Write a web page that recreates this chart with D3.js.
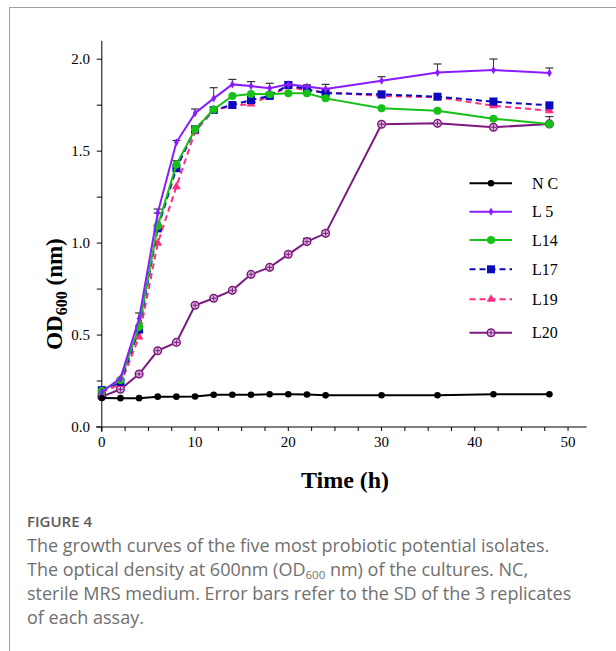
<!DOCTYPE html>
<html><head><meta charset="utf-8">
<script src="https://cdn.jsdelivr.net/npm/d3@7"></script>
<style>body{margin:0;background:#fff}svg{display:block}</style>
</head><body>
<script>
const times = [0,2,4,6,8,10,12,14,16,18,20,22,24,30,36,42,48];
const NC  = [0.158,0.157,0.157,0.165,0.165,0.166,0.175,0.175,0.175,0.178,0.178,0.177,0.172,0.173,0.173,0.178,0.178];
const L5  = [0.19,0.265,0.59,1.165,1.548,1.706,1.787,1.863,1.854,1.842,1.863,1.851,1.838,1.883,1.927,1.941,1.925];
const L14 = [0.196,0.256,0.545,1.093,1.428,1.619,1.727,1.80,1.811,1.809,1.815,1.815,1.787,1.733,1.720,1.676,1.648];
const L17 = [0.20,0.245,0.53,1.08,1.407,1.619,1.724,1.751,1.778,1.80,1.86,1.836,1.815,1.809,1.796,1.769,1.749];
const L19 = [0.19,0.232,0.49,1.0,1.307,1.606,1.724,1.746,1.756,1.80,1.851,1.83,1.82,1.80,1.793,1.747,1.72];
const L20 = [0.165,0.205,0.288,0.415,0.46,0.662,0.70,0.743,0.83,0.868,0.939,1.008,1.053,1.646,1.651,1.63,1.648];
// upward SD error bars
const errL5  = [0,0,0.03,0.02,0.01,0.023,0.058,0.027,0.024,0.027,0.01,0.01,0.025,0.022,0.047,0.06,0.027];
const errL14 = [0,0,0,0.07,0.02,0,0,0,0,0,0,0,0,0,0,0,0.04];
const errL17 = [0,0,0,0,0,0,0,0,0,0,0,0,0,0.01,0,0.02,0];
const errL19 = [0,0,0,0,0,0,0,0,0,0,0,0,0,0.015,0,0.025,0];
const errL20 = [0,0,0,0,0,0,0,0,0,0,0,0.018,0.014,0,0,0,0];
const seriesNames = ["N C","L 5","L14","L17","L19","L20"];
const yTicks = [0,0.5,1.0,1.5,2.0];
const xTicks = [0,10,20,30,40,50];
const captionTitle = "FIGURE 4";

const W=616,H=651;
const svg=d3.select("body").append("svg").attr("width",W).attr("height",H);

// frame
svg.append("line").attr("x1",9).attr("x2",W).attr("y1",7.5).attr("y2",7.5).attr("stroke","#a0a0a0");
svg.append("line").attr("x1",9.5).attr("x2",9.5).attr("y1",7).attr("y2",H).attr("stroke","#a0a0a0");

const x=d3.scaleLinear().domain([0,52]).range([101.8,586.7]);
const y=d3.scaleLinear().domain([0,2.1]).range([427,40.8]);
const serif="'Liberation Serif','Times New Roman',serif";

// axes lines
svg.append("line").attr("x1",96).attr("x2",x(52)).attr("y1",y(0)).attr("y2",y(0)).attr("stroke","#000").attr("stroke-width",1);
svg.append("line").attr("x1",x(0)).attr("x2",x(0)).attr("y1",y(2.1)).attr("y2",y(0)+5).attr("stroke","#000").attr("stroke-width",1);

// x ticks
const xMinor=d3.range(0,52,2.5);
svg.append("g").selectAll("line").data(xMinor).join("line")
  .attr("x1",d=>x(d)).attr("x2",d=>x(d)).attr("y1",y(0)).attr("y2",y(0)+4).attr("stroke","#000");
svg.append("g").selectAll("text").data(xTicks).join("text")
  .attr("x",d=>x(d)).attr("y",447).attr("text-anchor","middle")
  .attr("font-family",serif).attr("font-size",15).text(d=>d);
// y ticks
const yMinor=d3.range(0,2.01,0.25);
svg.append("g").selectAll("line").data(yMinor).join("line")
  .attr("x1",x(0)-5).attr("x2",x(0)).attr("y1",d=>y(d)).attr("y2",d=>y(d)).attr("stroke","#000");
svg.append("g").selectAll("text").data(yTicks).join("text")
  .attr("x",90).attr("y",d=>y(d)+5).attr("text-anchor","end")
  .attr("font-family",serif).attr("font-size",15).text(d=>d3.format(".1f")(d));

// axis titles
svg.append("text").attr("x",345).attr("y",488).attr("text-anchor","middle")
  .attr("font-family",serif).attr("font-weight","bold").attr("font-size",24).text("Time (h)");
const yt=svg.append("text").attr("transform","translate(62,294) rotate(-90)").attr("text-anchor","middle")
  .attr("font-family",serif).attr("font-weight","bold").attr("font-size",23);
yt.append("tspan").text("OD");
yt.append("tspan").attr("font-size",16).attr("dy",5).text("600");
yt.append("tspan").attr("dy",-5).text(" (nm)");

const series=[
  {name:seriesNames[5],vals:L20,err:errL20,color:"#7d1a80",dash:null,marker:"cross",ec:"#333"},
  {name:seriesNames[4],vals:L19,err:errL19,color:"#ff2c80",dash:"6,4",marker:"tri",ec:"#ff7fb0"},
  {name:seriesNames[3],vals:L17,err:errL17,color:"#0a0ac0",dash:"6,4",marker:"sq",ec:"#7f7fe0"},
  {name:seriesNames[2],vals:L14,err:errL14,color:"#16c016",dash:null,marker:"circ",ec:"#333"},
  {name:seriesNames[1],vals:L5,err:errL5,color:"#8a1cff",dash:null,marker:"dia",ec:"#333"},
  {name:seriesNames[0],vals:NC,err:null,color:"#000",dash:null,marker:"dot",ec:"#333"}
];
function drawMarker(g,type,cx,cy,color){
  if(type==="dot") g.append("circle").attr("cx",cx).attr("cy",cy).attr("r",3.3).attr("fill",color);
  else if(type==="circ") g.append("circle").attr("cx",cx).attr("cy",cy).attr("r",4).attr("fill",color);
  else if(type==="sq") g.append("rect").attr("x",cx-4).attr("y",cy-4).attr("width",8).attr("height",8).attr("fill",color);
  else if(type==="tri") g.append("path").attr("d",d3.symbol(d3.symbolTriangle,34)()).attr("transform",`translate(${cx},${cy})`).attr("fill",color);
  else if(type==="dia") g.append("path").attr("d",d3.symbol(d3.symbolDiamond,20)()).attr("transform",`translate(${cx},${cy})`).attr("fill",color);
  else if(type==="cross"){
    g.append("circle").attr("cx",cx).attr("cy",cy).attr("r",3.8).attr("fill","#d9b8dc").attr("stroke",color).attr("stroke-width",1.5);
    g.append("path").attr("d",`M${cx-2.5},${cy}H${cx+2.5}M${cx},${cy-2.5}V${cy+2.5}`).attr("stroke",color).attr("stroke-width",1);
  }
}
const line=d3.line().x(d=>x(d[0])).y(d=>y(d[1]));
// error bars first
series.forEach(s=>{
  if(!s.err) return;
  const g=svg.append("g");
  times.forEach((t,i)=>{
    const e=s.err[i]; if(!e) return;
    const x0=x(t),y0=y(s.vals[i]),y1=y(s.vals[i]+e);
    g.append("line").attr("x1",x0).attr("x2",x0).attr("y1",y0).attr("y2",y1).attr("stroke",s.ec).attr("stroke-width",1);
    g.append("line").attr("x1",x0-4).attr("x2",x0+4).attr("y1",y1).attr("y2",y1).attr("stroke",s.ec).attr("stroke-width",1.2);
  });
});
series.forEach(s=>{
  const g=svg.append("g");
  const pts=times.map((t,i)=>[t,s.vals[i]]);
  g.append("path").attr("d",line(pts)).attr("fill","none").attr("stroke",s.color).attr("stroke-width",2)
    .attr("stroke-dasharray",s.dash);
  pts.forEach(p=>drawMarker(g,s.marker,x(p[0]),y(p[1]),s.color));
});

// legend
const legOrder=[series[5],series[4],series[3],series[2],series[1],series[0]];
const legY=[183.3,211.7,240,269.3,299.3,332.7];
legOrder.forEach((s,i)=>{
  const g=svg.append("g");
  g.append("line").attr("x1",469.5).attr("x2",512).attr("y1",legY[i]).attr("y2",legY[i])
    .attr("stroke",s.color).attr("stroke-width",2).attr("stroke-dasharray",s.dash);
  drawMarker(g,s.marker,491,legY[i],s.color);
  g.append("text").attr("x",532).attr("y",legY[i]+5.5).attr("font-family",serif).attr("font-size",16).text(s.name);
});

// caption
const sans="'Open Sans','Noto Sans',sans-serif";
svg.append("text").attr("x",27).attr("y",527).attr("font-family",sans).attr("font-size",15).attr("font-weight",600)
  .attr("fill","#5a5a5a").text(captionTitle);
const cap=[
 ["The growth curves of the five most probiotic potential isolates."],
 ["The optical density at 600nm (OD","600"," nm) of the cultures. NC,"],
 ["sterile MRS medium. Error bars refer to the SD of the 3 replicates"],
 ["of each assay."]
];
cap.forEach((parts,i)=>{
  const t=svg.append("text").attr("x",27).attr("y",552+i*24).attr("font-family",sans).attr("font-size",18)
    .attr("fill","#707070");
  if(parts.length===1) t.text(parts[0]);
  else{
    t.append("tspan").text(parts[0]);
    t.append("tspan").attr("font-size",11.5).attr("dy",2.5).text(parts[1]);
    t.append("tspan").attr("dy",-2.5).text(parts[2]);
  }
});
</script>
</body></html>
